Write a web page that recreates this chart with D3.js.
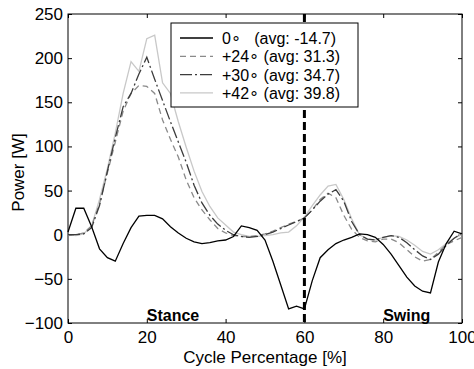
<!DOCTYPE html>
<html>
<head>
<meta charset="utf-8">
<script src="https://cdn.jsdelivr.net/npm/d3@7"></script>
<style>
  body { margin: 0; background: #fff; }
  svg { font-family: "Liberation Sans", Arial, sans-serif; }
</style>
</head>
<body>
<div id="chart"></div>
<script>
const WIDTH = 474;
const HEIGHT = 369;

// cycle percentage (x)
const pct = [0, 2, 4, 6, 8, 10, 12, 14, 16, 18, 20, 22, 24, 26, 28, 30, 32, 34, 36, 38, 40,
  42, 44, 46, 48, 50, 52, 54, 56, 58, 60, 62, 64, 66, 68, 70, 72, 74, 76, 78, 80,
  82, 84, 86, 88, 90, 92, 94, 96, 98, 100];

// power [W] per knee angle
const p0 = [3, 30, 30, 9, -16, -26, -30, -10, 8, 21, 22, 22, 18, 9, 2, -4, -8, -10, -9, -7, -6,
  -2, 10, 8, 5, -6, -30, -57, -84, -81, -84, -52, -26, -17, -10, -6, -3, 1, 0, -3, -11,
  -22, -35, -48, -58, -64, -66, -31, -10, 4, 1];
const p24 = [-1, 0, 2, 10, 35, 70, 105, 140, 160, 169, 168, 160, 130, 108, 88, 62, 42, 28, 17, 7, 2,
  -1, -2, -2, -1, 1, 4, 8, 12, 15, 19, 28, 40, 47, 42, 22, 6, -3, -7, -8, -5,
  -5, -9, -17, -25, -30, -28, -20, -11, -7, -3];
const p30 = [0, 0, 1, 8, 33, 72, 110, 145, 160, 182, 201, 176, 152, 128, 105, 82, 56, 36, 22, 12, 5,
  0, -2, -3, -2, 0, 3, 7, 11, 15, 19, 28, 38, 46, 51, 38, 15, 0, -5, -6, -3,
  -1, -3, -9, -17, -24, -28, -22, -12, -4, 2];
const p42 = [0, -1, 1, 10, 40, 75, 115, 160, 196, 185, 222, 226, 172, 160, 128, 99, 72, 49, 32, 19, 11,
  3, 0, -2, -2, -1, 0, 2, 3, 10, 20, 33, 45, 55, 57, 40, 18, 0, -5, -6, -3,
  -1, -2, -6, -12, -19, -22, -17, -10, -4, 0];

const seriesNames = ["0\u2218   (avg: -14.7)", "+24\u2218 (avg: 31.3)", "+30\u2218 (avg: 34.7)", "+42\u2218 (avg: 39.8)"];
const seriesColors = ["#000000", "#8a8a8a", "#3c3c3c", "#c8c8c8"];
const seriesDash = [null, "6,4", "12,3,2,3", null];

const xTicks = [0, 20, 40, 60, 80, 100];
const yTicks = [-100, -50, 0, 50, 100, 150, 200, 250];
const phaseLabels = ["Stance", "Swing"];
const phaseAt = [20, 80];
const toeOff = 60;

const svg = d3.select("#chart").append("svg")
  .attr("width", WIDTH)
  .attr("height", HEIGHT);

const x = d3.scaleLinear().domain([0, 100]).range([68, 462]);
const y = d3.scaleLinear().domain([-100, 250]).range([323, 14]);

// frame
svg.append("rect")
  .attr("x", x(0)).attr("y", y(250))
  .attr("width", x(100) - x(0)).attr("height", y(-100) - y(250))
  .attr("fill", "none").attr("stroke", "#000").attr("stroke-width", 1);

// axes with inward ticks
const fs = "17px";
const axB = svg.append("g").attr("transform", `translate(0,${y(-100)})`)
  .call(d3.axisBottom(x).tickValues(xTicks).tickSizeInner(-4).tickSizeOuter(0).tickPadding(8));
const axL = svg.append("g").attr("transform", `translate(${x(0)},0)`)
  .call(d3.axisLeft(y).tickValues(yTicks).tickSizeInner(-4).tickSizeOuter(0).tickPadding(5));
const axT = svg.append("g").attr("transform", `translate(0,${y(250)})`)
  .call(d3.axisTop(x).tickValues(xTicks).tickSizeInner(-4).tickSizeOuter(0).tickFormat(""));
const axR = svg.append("g").attr("transform", `translate(${x(100)},0)`)
  .call(d3.axisRight(y).tickValues(yTicks).tickSizeInner(-4).tickSizeOuter(0).tickFormat(""));
[axB, axL, axT, axR].forEach(a => {
  a.select(".domain").remove();
  a.selectAll("text").attr("font-size", fs).attr("fill", "#000")
    .attr("font-family", "Liberation Sans, Arial, sans-serif");
  a.selectAll("line").attr("stroke", "#000");
});

// lines
const allSeries = [p0, p24, p30, p42];
const line = d3.line().x((d, i) => x(pct[i])).y(d => y(d));
[3, 1, 2, 0].forEach(k => {
  svg.append("path")
    .datum(allSeries[k])
    .attr("d", line)
    .attr("fill", "none")
    .attr("stroke", seriesColors[k])
    .attr("stroke-width", 1.3)
    .attr("stroke-dasharray", seriesDash[k]);
});

// toe-off line
svg.append("line")
  .attr("x1", x(toeOff)).attr("x2", x(toeOff))
  .attr("y1", y(250)).attr("y2", y(-100))
  .attr("stroke", "#000").attr("stroke-width", 3)
  .attr("stroke-dasharray", "8,4");

// phase labels
svg.selectAll(".phase").data(phaseLabels).join("text")
  .attr("x", (d, i) => x(phaseAt[i]))
  .attr("y", y(-100) - 2)
  .attr("font-size", "16px").attr("font-weight", "bold")
  .text(d => d);

// legend
const lg = svg.append("g");
lg.append("rect")
  .attr("x", 171).attr("y", 23).attr("width", 187).attr("height", 84)
  .attr("fill", "#fff").attr("stroke", "#000").attr("stroke-width", 1);
seriesNames.forEach((name, i) => {
  const yy = 38 + i * 18.3;
  lg.append("line")
    .attr("x1", 180).attr("x2", 213).attr("y1", yy).attr("y2", yy)
    .attr("stroke", seriesColors[i]).attr("stroke-width", 1.3)
    .attr("stroke-dasharray", seriesDash[i]);
  lg.append("text")
    .attr("x", 222).attr("y", yy + 6)
    .attr("font-size", "16px")
    .style("white-space", "pre")
    .text(name);
});

// axis titles
svg.append("text")
  .attr("x", (x(0) + x(100)) / 2).attr("y", 363)
  .attr("text-anchor", "middle").attr("font-size", fs)
  .text("Cycle Percentage [%]");
svg.append("text")
  .attr("transform", `translate(24,${(y(250) + y(-100)) / 2 + 4}) rotate(-90)`)
  .attr("text-anchor", "middle").attr("font-size", fs)
  .text("Power [W]");
</script>
</body>
</html>
